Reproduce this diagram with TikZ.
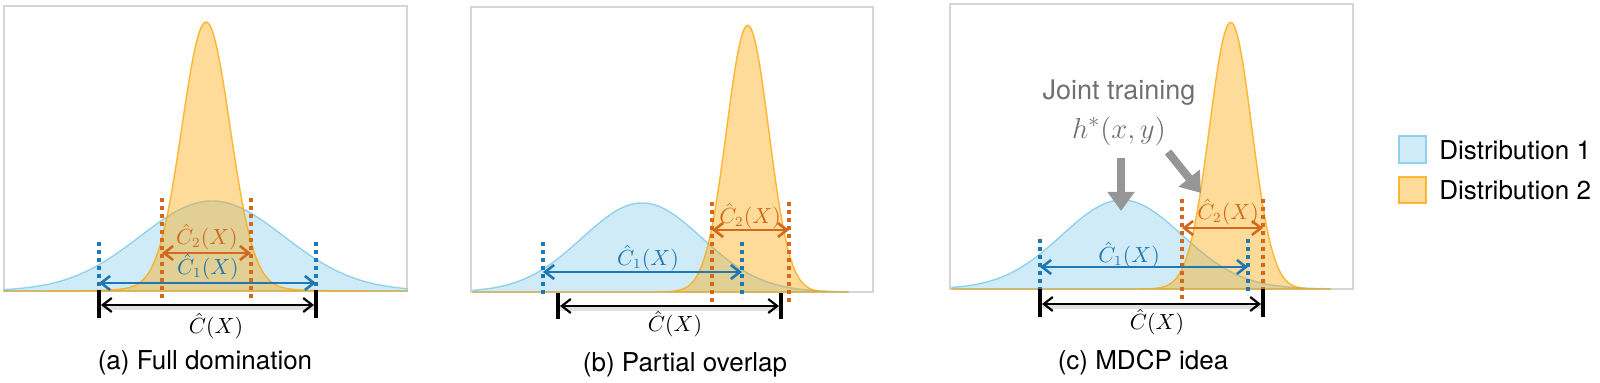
\documentclass[tikz,border=0pt]{standalone}
\usepackage{fontspec}
\setmainfont{TeX Gyre Heros}
\usetikzlibrary{arrows.meta}
\definecolor{distblue}{RGB}{135,206,235}
\definecolor{distorange}{RGB}{255,165,0}
\definecolor{cblue}{RGB}{31,119,180}
\definecolor{corange}{RGB}{210,105,30}
\definecolor{framegray}{RGB}{214,214,214}
\definecolor{hintgray}{RGB}{112,112,112}
\definecolor{pointergray}{RGB}{150,150,150}

\begin{document}
\begin{tikzpicture}[x=0.5pt,y=-0.5pt,>={Straight Barb[length=4.5pt,width=7pt]},
	panel/.style={draw=framegray,line width=0.8pt},
	dist1/.style={fill=distblue,fill opacity=0.4,draw=distblue,draw opacity=0.9,line width=0.7pt},
	dist2/.style={fill=distorange,fill opacity=0.4,draw=distorange,draw opacity=0.75,line width=0.7pt},
	bound1/.style={cblue,line width=1.9pt,dash pattern=on 2pt off 2pt},
	bound2/.style={corange,line width=1.9pt,dash pattern=on 2pt off 2pt},
	span1/.style={<->,cblue,line width=1.3pt},
	span2/.style={<->,corange,line width=1.3pt},
	endbar/.style={black,line width=2pt},
	fullspan/.style={<->,black,line width=1.1pt},
	graybar/.style={black!12,line width=2pt},
	mathlab/.style={font=\fontsize{10.5}{12}\selectfont,inner sep=0pt},
	caption/.style={font=\fontsize{13}{15.6}\selectfont,inner sep=0pt},
	pointer/.style={-{Triangle[width=13pt,length=9.5pt]},pointergray,line width=4pt}]
	\useasboundingbox (0,0) rectangle (1600,383);

	%% (a) Full domination
	\draw[panel] (4,6) rectangle (407,291);
	\filldraw[dist1] (4,291) -- plot[domain=4:407,samples=160] (\x,{291-90*exp(-((\x-212)/72)^2/2)}) -- (407,291) -- cycle;
	\filldraw[dist2] (4,291) -- plot[domain=4:407,samples=220] (\x,{291-263*exp(-((\x-206)/24)^2/2)-6*exp(-((\x-206)/50)^2/2)}) -- (407,291) -- cycle;
	\draw[bound1] (99,242) -- (99,290);
	\draw[bound1] (316,242) -- (316,290);
	\draw[bound2] (162,198) -- (162,298);
	\draw[bound2] (251,198) -- (251,298);
	\coordinate (a1l) at (99,283);  \coordinate (a1r) at (316,283);
	\coordinate (a2l) at (162,253); \coordinate (a2r) at (251,253);
	\coordinate (al) at (99,305);   \coordinate (ar) at (316,305);
	\draw[span1] (a1l) -- (a1r);
	\draw[span2] (a2l) -- (a2r);
	\draw[graybar] ([yshift=-1.5pt]al) -- ([yshift=-1.5pt]ar);
	\draw[endbar] (99,290) -- (99,318);
	\draw[endbar] (316,290) -- (316,318);
	\draw[fullspan,shorten <=1pt,shorten >=1pt] (al) -- (ar);
	\node[mathlab,corange] (c2a) at (207,237) {$\hat{C}_2(X)$};
	\node[mathlab,cblue] (c1a) at (208,267) {$\hat{C}_1(X)$};
	\node[mathlab] (ca) at (216,326) {$\hat{C}(X)$};
	\node[caption] (capa) at (205,363) {(a) Full domination};

	%% (b) Partial overlap
	\draw[panel] (471,7) rectangle (873,292);
	\filldraw[dist1] (473,292) -- plot[domain=473:848,samples=160] (\x,{292-89*exp(-((\x-642)/60)^2/2)}) -- (848,292) -- cycle;
	\filldraw[dist2] (473,292) -- plot[domain=473:848,samples=220] (\x,{292-262*exp(-((\x-748)/21)^2/2)-7*exp(-((\x-728)/22)^2/2)}) -- (848,292) -- cycle;
	\draw[bound1] (543,242) -- (543,298);
	\draw[bound1] (742,242) -- (742,298);
	\draw[bound2] (712,202) -- (712,302);
	\draw[bound2] (789,202) -- (789,302);
	\coordinate (b1l) at (543,272); \coordinate (b1r) at (742,272);
	\coordinate (b2l) at (712,230); \coordinate (b2r) at (789,230);
	\coordinate (bl) at (558,306);  \coordinate (br) at (781,306);
	\draw[span1] (b1l) -- (b1r);
	\draw[span2] (b2l) -- (b2r);
	\draw[graybar] ([yshift=-1.5pt]bl) -- ([yshift=-1.5pt]br);
	\draw[endbar] (558,293) -- (558,319);
	\draw[endbar] (781,293) -- (781,319);
	\draw[fullspan,shorten <=1pt,shorten >=1pt] (bl) -- (br);
	\node[mathlab,corange] (c2b) at (750,216) {$\hat{C}_2(X)$};
	\node[mathlab,cblue] (c1b) at (648,258) {$\hat{C}_1(X)$};
	\node[mathlab] (cb) at (675,324) {$\hat{C}(X)$};
	\node[caption] (capb) at (685,365) {(b) Partial overlap};

	%% (c) MDCP idea
	\draw[panel] (950,4) rectangle (1353,289);
	\filldraw[dist1] (952,289) -- plot[domain=952:1330,samples=160] (\x,{289-89*exp(-((\x-1122)/60)^2/2)}) -- (1330,289) -- cycle;
	\filldraw[dist2] (952,289) -- plot[domain=952:1330,samples=220] (\x,{289-262*exp(-((\x-1231)/21)^2/2)-7*exp(-((\x-1211)/22)^2/2)}) -- (1330,289) -- cycle;
	\draw[bound1] (1040,239) -- (1040,295);
	\draw[bound1] (1248,239) -- (1248,295);
	\draw[bound2] (1182,199) -- (1182,300);
	\draw[bound2] (1263,199) -- (1263,300);
	\coordinate (c1l) at (1040,267); \coordinate (c1r) at (1248,267);
	\coordinate (c2l) at (1182,228); \coordinate (c2r) at (1263,228);
	\coordinate (cl) at (1040,304);  \coordinate (cr) at (1263,304);
	\draw[span1] (c1l) -- (c1r);
	\draw[span2] (c2l) -- (c2r);
	\draw[graybar] ([yshift=-1.5pt]cl) -- ([yshift=-1.5pt]cr);
	\draw[endbar] (1040,289) -- (1040,317);
	\draw[endbar] (1263,289) -- (1263,317);
	\draw[fullspan,shorten <=1pt,shorten >=1pt] (cl) -- (cr);
	\node[mathlab,corange] (c2c) at (1228,212) {$\hat{C}_2(X)$};
	\node[mathlab,cblue] (c1c) at (1129,255) {$\hat{C}_1(X)$};
	\node[mathlab] (cc) at (1157,322) {$\hat{C}(X)$};
	\node[caption] (capc) at (1143,363) {(c) MDCP idea};

	%% joint training hint
	\node[caption,hintgray,font=\fontsize{13.5}{16}\selectfont] (joint) at (1119,93) {Joint training};
	\node[caption,hintgray,font=\fontsize{15.5}{18}\selectfont] (hstar) at (1119,131) {$h^{*}(x,y)$};
	\coordinate (p1s) at (1121,158); \coordinate (p1e) at (1121,211);
	\coordinate (p2s) at (1168,152); \coordinate (p2e) at (1201,193);
	\draw[pointer] (p1s) -- (p1e);
	\draw[pointer] (p2s) -- (p2e);

	%% legend
	\filldraw[dist1] (1399,136) rectangle (1426,163);
	\filldraw[dist2] (1399,177) rectangle (1426,203);
	\node[caption,anchor=west] (leg1) at (1439,150) {Distribution 1};
	\node[caption,anchor=west] (leg2) at (1439,190) {Distribution 2};
\end{tikzpicture}
\end{document}
